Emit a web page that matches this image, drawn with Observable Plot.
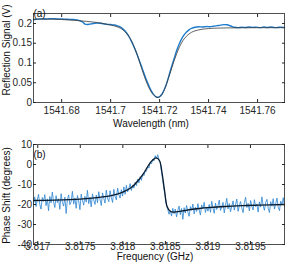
<!DOCTYPE html>
<html><head><meta charset="utf-8">
<script src="https://cdn.jsdelivr.net/npm/d3@7"></script>
<script src="https://cdn.jsdelivr.net/npm/@observablehq/plot@0.6"></script>
<style>
html,body{margin:0;padding:0;background:#fff;}
#chart{width:304px;}
#chart svg{display:block;}
</style></head>
<body><div id="chart"></div>
<script>
// ---- Panel (a): reflection signal vs wavelength ----
const wlTicks = [1541.68, 1541.70, 1541.72, 1541.74, 1541.76];
const reflTicks = [0, 0.05, 0.1, 0.15, 0.2];
const wlData = [1541.6685,1541.6705,1541.6720,1541.6735,1541.6750,1541.6765,1541.6780,1541.6795,1541.6810,1541.6825,1541.6840,1541.6855,1541.6870,1541.6885,1541.6895,1541.6905,1541.6915,1541.6925,1541.6935,1541.6945,1541.6955,1541.6965,1541.6975,1541.6985,1541.6995,1541.7005,1541.7015,1541.7025,1541.7035,1541.7045,1541.7055,1541.7065,1541.7075,1541.7085,1541.7095,1541.7105,1541.7115,1541.7125,1541.7135,1541.7145,1541.7155,1541.7165,1541.7175,1541.7185,1541.7193,1541.7200,1541.7210,1541.7220,1541.7230,1541.7240,1541.7250,1541.7260,1541.7270,1541.7280,1541.7290,1541.7300,1541.7310,1541.7320,1541.7330,1541.7345,1541.7360,1541.7375,1541.7390,1541.7405,1541.7420,1541.7435,1541.7450,1541.7465,1541.7475,1541.7485,1541.7495,1541.7505,1541.7520,1541.7535,1541.7550,1541.7565,1541.7580,1541.7595,1541.7610,1541.7625,1541.7640,1541.7655,1541.7670,1541.7690,1541.7710];
const reflData = [0.2095,0.2110,0.2118,0.2112,0.2120,0.2122,0.2115,0.2118,0.2110,0.2108,0.2100,0.2098,0.2080,0.2040,0.1985,0.1975,0.1985,0.1995,0.2005,0.2010,0.2008,0.2000,0.1988,0.1978,0.1975,0.1972,0.1962,0.1948,0.1925,0.1890,0.1835,0.1760,0.1665,0.1545,0.1410,0.1265,0.1100,0.0930,0.0760,0.0590,0.0440,0.0305,0.0205,0.0145,0.0130,0.0145,0.0215,0.0340,0.0510,0.0720,0.0930,0.1130,0.1320,0.1480,0.1610,0.1710,0.1785,0.1840,0.1875,0.1905,0.1918,0.1912,0.1922,0.1918,0.1930,0.1945,0.1960,0.1972,0.1968,0.1950,0.1925,0.1905,0.1895,0.1905,0.1898,0.1910,0.1902,0.1908,0.1895,0.1910,0.1900,0.1912,0.1895,0.1905,0.1900];
const wlFit = [1541.6685,1541.6750,1541.6800,1541.6850,1541.6900,1541.6950,1541.7000,1541.7030,1541.7050,1541.7070,1541.7090,1541.7110,1541.7130,1541.7150,1541.7170,1541.7185,1541.7193,1541.7205,1541.7220,1541.7240,1541.7260,1541.7280,1541.7300,1541.7320,1541.7340,1541.7370,1541.7400,1541.7450,1541.7500,1541.7600,1541.7710];
const reflFit = [0.2110,0.2110,0.2100,0.2080,0.2055,0.2020,0.1960,0.1910,0.1840,0.1720,0.1500,0.1180,0.0800,0.0460,0.0230,0.0145,0.0130,0.0170,0.0330,0.0690,0.1070,0.1390,0.1610,0.1735,0.1805,0.1850,0.1872,0.1885,0.1890,0.1893,0.1895];

// ---- Panel (b): phase shift vs frequency ----
const fTicks = [3.817, 3.8175, 3.818, 3.8185, 3.819, 3.8195];
const phaseTicks = [-40, -30, -20, -10, 0, 10];
const fStart = 3.81695, fStep = 0.00001475;
const phaseData = [
-19.5,-16.2,-21.0,-17.8,-14.9,-19.9,-22.3,-16.5,-18.4,-15.1,
-20.6,-17.2,-23.1,-16.0,-19.2,-13.8,-18.7,-21.5,-15.6,-19.0,
-17.1,-22.4,-14.6,-18.9,-20.8,-16.3,-24.5,-17.5,-15.2,-20.1,
-18.6,-13.4,-19.8,-16.7,-21.9,-15.5,-18.2,-22.6,-14.8,-17.9,
-20.3,-15.9,-18.8,-12.9,-19.6,-16.4,-21.2,-14.7,-17.8,-20.0,
-15.3,-19.1,-13.6,-17.4,-20.5,-14.2,-16.9,-19.3,-12.8,-17.0,
-18.6,-13.1,-16.5,-19.0,-12.4,-15.9,-17.7,-11.8,-15.0,-16.8,
-12.6,-15.8,-11.2,-14.9,-10.4,-13.7,-11.9,-9.6,-13.0,-10.2,
-11.8,-8.9,-10.6,-7.3,-9.2,-6.1,-7.9,-4.8,-5.6,-3.2,
-3.4,-0.9,-1.8,1.2,0.4,2.6,1.8,4.4,3.1,4.9,
2.4,0.8,-3.6,-8.1,-12.4,-15.9,-20.3,-22.5,-24.9,-23.1,
-25.8,-21.9,-24.6,-22.3,-26.2,-23.0,-20.8,-25.1,-22.0,-27.4,
-21.6,-24.3,-20.5,-23.8,-25.9,-21.0,-22.9,-19.8,-24.7,-21.4,
-23.5,-19.6,-22.8,-25.3,-20.2,-22.1,-18.9,-24.0,-21.2,-23.3,
-20.0,-23.9,-18.4,-21.7,-24.4,-19.3,-22.5,-20.6,-17.8,-23.0,
-21.3,-18.9,-24.2,-20.4,-16.9,-22.2,-19.5,-23.6,-20.9,-18.2,
-22.8,-19.9,-17.3,-23.4,-20.6,-18.5,-21.8,-24.1,-19.1,-16.4,
-21.5,-19.4,-23.2,-18.0,-20.9,-22.7,-17.6,-21.1,-19.7,-23.8,
-18.7,-21.3,-16.2,-20.5,-22.9,-19.0,-17.4,-21.9,-24.0,-18.6,
-20.8,-17.1,-22.3,-19.6,-16.8,-21.4,-23.1,-18.3,-20.1,-16.6,-21.0];
const fFit = [3.81695,3.8172,3.8175,3.8177,3.8179,3.8180,3.8181,3.8182,3.81825,3.8183,3.81835,3.81839,3.81843,3.81846,3.81849,3.81852,3.81856,3.8186,3.8187,3.8188,3.8189,3.8190,3.8192,3.8194,3.8196,3.8199];
const phaseFit = [-18,-17.8,-17.3,-16.6,-15.2,-13.8,-11.5,-7,-4,-0.5,2.2,3.3,2,-4,-13,-21,-23.5,-23.8,-23.2,-22.5,-22,-21.6,-21,-20.6,-20.3,-20];

const font = "Liberation Sans, Arial, Helvetica, sans-serif";
const axisColor = "#262626";

const topRows = wlData.map((w, i) => ({w, v: reflData[i]}));
const topFitRows = wlFit.map((w, i) => ({w, v: reflFit[i]}));
const botRows = phaseData.map((v, i) => ({f: fStart + i * fStep, v}));
const botFitRows = fFit.map((f, i) => ({f, v: phaseFit[i]}));

function frameAxes(xTicks, yTicks, xFmt, yFmt, xPad) {
  return [
    Plot.axisX(xTicks, {anchor: "bottom", tickSize: -3, tickPadding: xPad, tickFormat: xFmt, label: null, stroke: axisColor, fill: axisColor}),
    Plot.axisX(xTicks, {anchor: "top", tickSize: -3, tickFormat: () => "", label: null, stroke: axisColor}),
    Plot.axisY(yTicks, {anchor: "left", tickSize: -3, tickPadding: 4.5, tickFormat: yFmt, label: null, stroke: axisColor, fill: axisColor}),
    Plot.axisY(yTicks, {anchor: "right", tickSize: -3, tickFormat: () => "", label: null, stroke: axisColor}),
    Plot.frame({stroke: axisColor, strokeWidth: 0.8})
  ];
}

const chartA = Plot.plot({
  width: 304, height: 133,
  marginTop: 13, marginBottom: 31, marginLeft: 33, marginRight: 20,
  style: {fontFamily: font, fontSize: "10px", background: "white", overflow: "visible"},
  x: {domain: [1541.6685, 1541.7710]},
  y: {domain: [0, 0.2253]},
  marks: [
    Plot.line(topRows, {x: "w", y: "v", stroke: "#1f7ccc", strokeWidth: 1.4, curve: "catmull-rom"}),
    Plot.line(topFitRows, {x: "w", y: "v", stroke: "#3a3a3a", strokeWidth: 0.8, curve: "catmull-rom"}),
    ...frameAxes(wlTicks, reflTicks, d => String(+d.toFixed(2)), d => String(+d.toFixed(2)), 7),
    Plot.text(["(a)"], {frameAnchor: "top-left", dx: 6, dy: 0, textAnchor: "middle", lineAnchor: "middle", fill: "#111", fontSize: 10}),
    Plot.text(["Reflection Signal (V)"], {frameAnchor: "left", dx: -27, dy: -8, rotate: -90, textAnchor: "middle", lineAnchor: "middle", fill: "#111", fontSize: 10}),
    Plot.text(["Wavelength (nm)"], {frameAnchor: "bottom", dx: -8, dy: 21, textAnchor: "middle", lineAnchor: "middle", fill: "#111", fontSize: 10})
  ]
});

const chartB = Plot.plot({
  width: 304, height: 136,
  marginTop: 11, marginBottom: 25, marginLeft: 33, marginRight: 20,
  style: {fontFamily: font, fontSize: "10px", background: "white", overflow: "visible"},
  x: {domain: [3.81695, 3.8199]},
  y: {domain: [-40, 10]},
  marks: [
    Plot.line(botRows, {x: "f", y: "v", stroke: "#2a84d0", strokeWidth: 0.8}),
    Plot.line(botFitRows, {x: "f", y: "v", stroke: "#0a1a2a", strokeWidth: 1.3, curve: "catmull-rom"}),
    ...frameAxes(fTicks, phaseTicks, d => String(+d.toFixed(4)), d => String(d), 1.5),
    Plot.text(["(b)"], {frameAnchor: "top-left", dx: 6, dy: 10.5, textAnchor: "middle", lineAnchor: "middle", fill: "#111", fontSize: 10}),
    Plot.text(["Phase Shift (degrees)"], {frameAnchor: "left", dx: -27, dy: 1, rotate: -90, textAnchor: "middle", lineAnchor: "middle", fill: "#111", fontSize: 10}),
    Plot.text(["Frequency (GHz)"], {frameAnchor: "bottom", dx: -4, dy: 12, textAnchor: "middle", lineAnchor: "middle", fill: "#111", fontSize: 10})
  ]
});

document.getElementById("chart").append(chartA, chartB);
</script>
</body></html>
